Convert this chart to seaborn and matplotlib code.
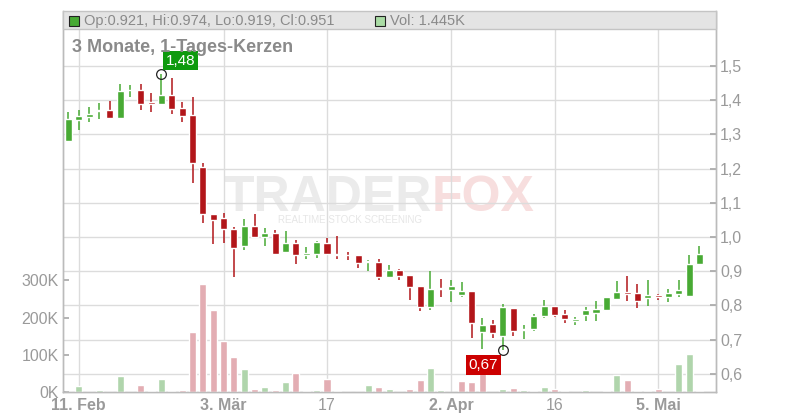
import matplotlib
matplotlib.use("Agg")
import matplotlib.pyplot as plt
import matplotlib.patches as mpatches
import numpy as np
import pandas as pd
import seaborn as sns

# trading days (Xetra: no Good Friday, Easter Monday, 1 May)
holidays = ["2025-04-18", "2025-04-21", "2025-05-01"]
dates = pd.bdate_range("2025-02-10", "2025-05-09")
dates = dates[~dates.isin(pd.to_datetime(holidays))]

opens = [1.282, 1.343, 1.352, 1.367, 1.372, 1.349, 1.430, 1.430, 1.396, 1.390,
         1.415, 1.377, 1.357, 1.205, 1.068, 1.056, 1.023, 0.975, 1.032, 1.001,
         1.012, 0.957, 0.983, 0.946, 0.951, 0.983, 0.950, 0.948, 0.948, 0.927,
         0.927, 0.884, 0.904, 0.889, 0.857, 0.796, 0.850, 0.846, 0.831, 0.842,
         0.723, 0.745, 0.711, 0.792, 0.728, 0.731, 0.769, 0.798, 0.775, 0.755,
         0.773, 0.778, 0.786, 0.819, 0.839, 0.836, 0.822, 0.830, 0.825, 0.833,
         0.827, 0.921]
highs = [1.366, 1.372, 1.380, 1.392, 1.398, 1.447, 1.445, 1.447, 1.421, 1.477,
         1.465, 1.395, 1.410, 1.217, 1.068, 1.071, 1.028, 1.052, 1.067, 1.026,
         1.020, 1.017, 0.991, 0.971, 0.988, 0.997, 1.003, 0.957, 0.948, 0.933,
         0.936, 0.918, 0.907, 0.889, 0.857, 0.901, 0.877, 0.875, 0.869, 0.842,
         0.763, 0.757, 0.804, 0.792, 0.743, 0.775, 0.816, 0.798, 0.786, 0.766,
         0.795, 0.813, 0.825, 0.872, 0.886, 0.863, 0.875, 0.833, 0.848, 0.875,
         0.948, 0.974]
lows = [1.280, 1.314, 1.335, 1.345, 1.349, 1.349, 1.408, 1.370, 1.366, 1.385,
        1.361, 1.335, 1.157, 1.040, 0.979, 0.981, 0.884, 0.963, 1.001, 0.975,
        0.951, 0.954, 0.922, 0.937, 0.940, 0.949, 0.937, 0.934, 0.908, 0.902,
        0.873, 0.879, 0.875, 0.816, 0.784, 0.787, 0.825, 0.811, 0.825, 0.705,
        0.672, 0.705, 0.670, 0.711, 0.702, 0.725, 0.763, 0.765, 0.749, 0.743,
        0.755, 0.755, 0.786, 0.816, 0.813, 0.792, 0.798, 0.816, 0.810, 0.825,
        0.827, 0.919]
closes = [1.345, 1.354, 1.360, 1.372, 1.349, 1.427, 1.431, 1.389, 1.390, 1.415,
          1.375, 1.355, 1.215, 1.066, 1.049, 1.022, 0.969, 1.032, 1.001, 1.012,
          0.951, 0.983, 0.946, 0.953, 0.985, 0.949, 0.946, 0.946, 0.925, 0.929,
          0.884, 0.904, 0.887, 0.854, 0.796, 0.848, 0.849, 0.857, 0.842, 0.749,
          0.742, 0.720, 0.795, 0.725, 0.730, 0.769, 0.798, 0.773, 0.761, 0.761,
          0.786, 0.789, 0.825, 0.839, 0.834, 0.813, 0.830, 0.825, 0.836, 0.845,
          0.922, 0.951]
# volume in thousands
volumes = [0, 17, 0, 6, 0, 44, 0, 20, 3.6, 36,
           3.6, 6, 160, 289, 221, 138, 95, 63, 9, 14,
           6, 28, 52, 3.6, 6, 36, 3.6, 0, 0, 20,
           14, 9, 0, 9, 33, 65, 6, 0, 30, 28,
           57, 0, 9, 12, 6, 3.6, 14, 9, 3.6, 0,
           6, 0, 3.6, 47, 33, 3.6, 3.6, 9, 0, 76,
           103, 1.445]

tick_dates = ["2025-02-11", "2025-03-03", "2025-03-17", "2025-04-02", "2025-04-16", "2025-05-05"]
tick_labels = ["11. Feb", "3. Mär", "17", "2. Apr", "16", "5. Mai"]
price_ticks = [0.6, 0.7, 0.8, 0.9, 1.0, 1.1, 1.2, 1.3, 1.4, 1.5]
vol_ticks = [0, 100, 200, 300]

df = pd.DataFrame({"date": dates, "open": opens, "high": highs, "low": lows,
                   "close": closes, "vol": volumes})
df["i"] = np.arange(len(df))
df["up"] = df["close"] >= df["open"]
df["vol_up"] = df["close"] >= df["close"].shift(1).fillna(df["open"])

GREEN = "#48aa34"
RED = "#b2161a"
GRID = "#dcdcdc"
TXT = "#9a9a9a"

sns.set_theme(style="white")
plt.rcParams["font.family"] = ["Liberation Sans", "DejaVu Sans"]

fig = plt.figure(figsize=(8, 4.2), dpi=100)
ax = fig.add_axes([63 / 800, 28 / 420, 653 / 800, 381 / 420])
ax_vol = ax.twinx()

# grid + watermark
ax.set_axisbelow(True)
ax.grid(True, color=GRID, lw=1.0)
ax.text(0.565, (392 - 211) / 381, "TRADER", transform=ax.transAxes, ha="right", va="baseline",
        fontsize=36, fontweight="bold", color="#ebebeb", zorder=0.5)
ax.text(0.565, (392 - 211) / 381, "FOX", transform=ax.transAxes, ha="left", va="baseline",
        fontsize=36, fontweight="bold", color="#f7dede", zorder=0.5)
ax.text(0.44, (392 - 220) / 381, "REALTIME STOCK SCREENING", transform=ax.transAxes, ha="center",
        va="center", fontsize=7, color="#e6e6e6", zorder=0.5)

# candles
colors = np.where(df["up"], GREEN, RED)
ax.vlines(df["i"], df["low"], df["high"], colors=colors, lw=1.1, zorder=3)
body_bottom = df[["open", "close"]].min(axis=1)
body_h = (df["close"] - df["open"]).abs().clip(lower=0.0007)
ax.bar(df["i"], body_h, bottom=body_bottom, width=0.68, color=colors, zorder=4)

# volume
sns.barplot(data=df, x="i", y="vol", hue="vol_up", palette={True: "#aadca5", False: "#eca4ac"},
            native_scale=True, dodge=False, width=0.68, errorbar=None, legend=False,
            ax=ax_vol, zorder=2)

# axes ranges
ax.set_xlim(-0.52, 62.6)
ax.set_ylim(0.5468, 1.6608)
ax_vol.set_ylim(0, 1024)

tick_pos = [int(df.index[df["date"] == pd.Timestamp(d)][0]) for d in tick_dates]
ax.set_xticks(tick_pos)
ax.set_xticklabels(tick_labels, fontsize=11.5, color=TXT)
for lbl, txt in zip(ax.get_xticklabels(), tick_labels):
    if not txt.isdigit():
        lbl.set_fontweight("bold")
ax.tick_params(axis="x", length=0, pad=4)

ax.yaxis.tick_right()
ax.set_yticks(price_ticks)
ax.set_yticklabels([f"{v:.1f}".replace(".", ",") for v in price_ticks], fontsize=11.5, color=TXT)
ax.tick_params(axis="y", direction="in", length=4, color="#aaaaaa", pad=3)

ax_vol.yaxis.tick_left()
ax_vol.set_yticks(vol_ticks)
ax_vol.set_yticklabels([f"{v}K" for v in vol_ticks], fontsize=11.5, color=TXT)
ax_vol.tick_params(axis="y", direction="in", length=4, color="#aaaaaa", pad=3)
ax_vol.set_xlabel("")
ax_vol.set_ylabel("")
ax.set_xlabel("")
ax.set_ylabel("")

for a in (ax, ax_vol):
    for s in ("left", "right", "bottom"):
        a.spines[s].set_color("#bbbbbb")
        a.spines[s].set_linewidth(1.0)
    a.spines["top"].set_visible(False)

# header bar
hb = (392 - 29) / 381
ax_vol.add_patch(mpatches.Rectangle((0, hb), 1, 1 - hb, transform=ax.transAxes,
                                    fc="#e4e4e4", ec="#c4c4c4", lw=1.0, zorder=5, clip_on=False))
last = df.iloc[-1]
ax_vol.plot([(74 - 63) / 653], [(392 - 21.5) / 381], marker="s", ms=7, mfc=GREEN, mec="#222222",
            mew=0.8, transform=ax.transAxes, zorder=6, clip_on=False)
ax_vol.plot([(380 - 63) / 653], [(392 - 21.5) / 381], marker="s", ms=7, mfc="#aadca5", mec="#222222",
            mew=0.8, transform=ax.transAxes, zorder=6, clip_on=False)
fig.text(84 / 800, 1 - 21 / 420,
         f"Op:{last['open']:.3f}, Hi:{last['high']:.3f}, Lo:{last['low']:.3f}, Cl:{last['close']:.3f}",
         fontsize=10.5, color="#8a8a8a", va="center", ha="left")
fig.text(390 / 800, 1 - 21 / 420, f"Vol: {last['vol']:.3f}K", fontsize=10.5, color="#8a8a8a",
         va="center", ha="left")

fig.text(72 / 800, 1 - 47 / 420, "3 Monate, 1-Tages-Kerzen", fontsize=13, fontweight="bold",
         color="#8a8a8a", va="center", ha="left")

# high / low markers
hi_i = int(df["high"].idxmax())
lo_i = int(df["low"].idxmin())
for idx, val, col, off in [(hi_i, df["high"].max(), "#0e9a0e", (14, 9.5)),
                           (lo_i, df["low"].min(), "#cc0000", (-14, -11))]:
    ax_vol.plot([idx], [val], marker="o", ms=7, mfc="none", mec="#222222", mew=0.9,
                transform=ax.transData, zorder=7)
    ax_vol.annotate(f"{val:.2f}".replace(".", ","), xy=(idx, val), xycoords=ax.transData,
                    xytext=off, textcoords="offset points", ha="center", va="center",
                    fontsize=11, color="white", zorder=8,
                    bbox=dict(boxstyle="square,pad=0.18", fc=col, ec="none"))

fig.savefig("out.png", dpi=100, facecolor="white")
